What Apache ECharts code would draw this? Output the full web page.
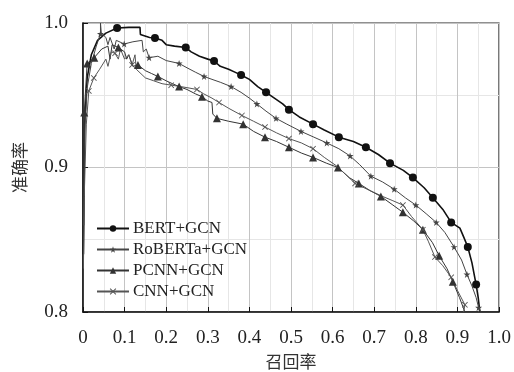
<!DOCTYPE html>
<html>
<head>
<meta charset="utf-8">
<script src="https://cdn.jsdelivr.net/npm/echarts@6/dist/echarts.min.js"></script>
<style>
  html, body { margin: 0; padding: 0; background: #fff; }
  #chart { width: 514px; height: 372px; }
</style>
</head>
<body>
<div id="chart"></div>
<script>
// [recall, precision, marker?]
const bertPts = [
  [0.001, 0.84], [0.004, 0.93], [0.01, 0.962], [0.02, 0.978], [0.035, 0.988], [0.055, 0.993],
  [0.082, 0.9965, 1], [0.11, 0.997], [0.137, 0.997], [0.138, 0.992], [0.16, 0.99],
  [0.173, 0.9896, 1], [0.19, 0.988], [0.2, 0.985], [0.22, 0.984], [0.247, 0.983, 1],
  [0.26, 0.98], [0.28, 0.977], [0.3, 0.975], [0.315, 0.9737, 1], [0.33, 0.97], [0.35, 0.968],
  [0.365, 0.966], [0.38, 0.964, 1], [0.4, 0.961], [0.42, 0.956], [0.44, 0.952, 1], [0.46, 0.948],
  [0.48, 0.944], [0.495, 0.94, 1], [0.52, 0.935], [0.553, 0.93, 1], [0.58, 0.926], [0.615, 0.921, 1],
  [0.65, 0.918], [0.68, 0.914, 1], [0.71, 0.909], [0.738, 0.903, 1], [0.77, 0.898], [0.793, 0.893, 1],
  [0.82, 0.886], [0.841, 0.879, 1], [0.865, 0.871], [0.885, 0.862, 1], [0.906, 0.858], [0.915, 0.852],
  [0.925, 0.845, 1], [0.935, 0.834], [0.945, 0.819, 1], [0.95, 0.81], [0.954, 0.8]
]
const robertaPts = [
  [0.001, 0.86], [0.004, 0.925], [0.01, 0.955], [0.02, 0.972], [0.032, 0.984], [0.042, 0.9925, 1],
  [0.042, 1.0], [0.044, 0.993], [0.055, 0.99], [0.06, 0.985], [0.065, 0.99], [0.075, 0.982],
  [0.08, 0.988], [0.099, 0.9855, 1], [0.12, 0.987], [0.142, 0.988], [0.145, 0.98], [0.152, 0.982],
  [0.159, 0.976, 1], [0.18, 0.977], [0.2, 0.974], [0.231, 0.972, 1], [0.25, 0.969], [0.27, 0.966],
  [0.291, 0.963, 1], [0.31, 0.961], [0.33, 0.959], [0.356, 0.956, 1], [0.38, 0.952], [0.4, 0.948],
  [0.418, 0.944, 1], [0.44, 0.939], [0.464, 0.934, 1], [0.49, 0.93], [0.524, 0.925, 1], [0.555, 0.921],
  [0.586, 0.917, 1], [0.615, 0.913], [0.642, 0.908, 1], [0.665, 0.902], [0.692, 0.894, 1], [0.72, 0.89],
  [0.748, 0.885, 1], [0.775, 0.879], [0.8, 0.874, 1], [0.825, 0.868], [0.849, 0.862, 1], [0.87, 0.855],
  [0.892, 0.845, 1], [0.91, 0.836], [0.923, 0.826, 1], [0.935, 0.818], [0.945, 0.81], [0.951, 0.803, 1],
  [0.955, 0.8]
]
const pcnnPts = [
  [0.002, 0.86], [0.003, 0.938, 1], [0.01, 0.972, 1], [0.027, 0.976, 1], [0.045, 0.982], [0.06, 0.984],
  [0.065, 0.975], [0.07, 0.985], [0.085, 0.983, 1], [0.1, 0.98], [0.105, 0.975], [0.11, 0.978],
  [0.12, 0.97], [0.132, 0.971, 1], [0.15, 0.967], [0.165, 0.965], [0.18, 0.963, 1], [0.2, 0.96],
  [0.215, 0.958], [0.231, 0.956, 1], [0.25, 0.954], [0.27, 0.951], [0.286, 0.949, 1], [0.3, 0.946],
  [0.31, 0.945], [0.312, 0.937], [0.322, 0.934, 1], [0.35, 0.932], [0.385, 0.93, 1], [0.41, 0.925],
  [0.4375, 0.921, 1], [0.465, 0.918], [0.495, 0.914, 1], [0.525, 0.91], [0.553, 0.907, 1], [0.585, 0.903],
  [0.613, 0.9, 1], [0.64, 0.893], [0.663, 0.889, 1], [0.69, 0.884], [0.716, 0.88, 1], [0.745, 0.874],
  [0.769, 0.869, 1], [0.795, 0.863], [0.817, 0.857, 1], [0.84, 0.848], [0.856, 0.839, 1], [0.875, 0.83],
  [0.889, 0.821, 1], [0.905, 0.81], [0.918, 0.8]
]
const cnnPts = [
  [0.001, 0.83], [0.003, 0.88], [0.008, 0.93], [0.014, 0.953, 1], [0.026, 0.962, 1], [0.04, 0.968],
  [0.055, 0.975], [0.06, 0.97], [0.068, 0.98], [0.077, 0.979, 1], [0.085, 0.975], [0.09, 0.982],
  [0.1, 0.975], [0.11, 0.978], [0.118, 0.971, 1], [0.125, 0.978], [0.128, 0.968], [0.15, 0.962],
  [0.17, 0.96], [0.19, 0.958], [0.212, 0.957, 1], [0.235, 0.956], [0.255, 0.955], [0.274, 0.954, 1],
  [0.29, 0.951], [0.31, 0.948], [0.327, 0.945, 1], [0.35, 0.941], [0.382, 0.936, 1], [0.41, 0.932],
  [0.4375, 0.928, 1], [0.465, 0.924], [0.495, 0.92, 1], [0.525, 0.917], [0.553, 0.913, 1], [0.58, 0.907],
  [0.61, 0.901], [0.654, 0.889, 1], [0.69, 0.884], [0.72, 0.88], [0.745, 0.877], [0.769, 0.874, 1],
  [0.79, 0.866], [0.817, 0.857, 1], [0.83, 0.849], [0.846, 0.838, 1], [0.865, 0.832], [0.885, 0.824, 1],
  [0.9, 0.815], [0.918, 0.805, 1], [0.915, 0.8]
]
const seriesNames = ['BERT+GCN', 'RoBERTa+GCN', 'PCNN+GCN', 'CNN+GCN']
const xTicks = [0, 0.1, 0.2, 0.3, 0.4, 0.5, 0.6, 0.7, 0.8, 0.9, 1.0]
const yTicks = [0.8, 0.9, 1.0]

const STAR = 'path://M5,0L6.2,3.6L10,3.6L6.9,5.9L8.1,9.5L5,7.3L1.9,9.5L3.1,5.9L0,3.6L3.8,3.6Z'
const CROSS = 'path://M0,1L1,0L5,4L9,0L10,1L6,5L10,9L9,10L5,6L1,10L0,9L4,5Z'

const serif = '"Liberation Serif", "Times New Roman", serif'

const toData = pts => pts.map(p => p[2]
  ? { value: [p[0], p[1]] }
  : { value: [p[0], p[1]], symbol: 'none' })

const mk = (name, pts, symbol, size, color, width) => ({
  name,
  type: 'line',
  data: toData(pts),
  symbol,
  symbolSize: size,
  showSymbol: true,
  showAllSymbol: true,
  clip: true,
  lineStyle: { color, width },
  itemStyle: { color, borderWidth: 0 },
  emphasis: { disabled: true },
  animation: false
})

const chart = echarts.init(document.getElementById('chart'))
chart.setOption({
  backgroundColor: '#fff',
  animation: false,
  grid: {
    left: 83, right: 15, top: 23, bottom: 60,
    outerBoundsMode: 'none',
    containLabel: false,
    show: true, borderColor: '#222', borderWidth: 1.2
  },
  legend: {
    orient: 'vertical',
    left: 91,
    top: 215,
    padding: 5,
    itemWidth: 32,
    itemHeight: 8,
    itemGap: 4,
    data: seriesNames,
    textStyle: { fontFamily: serif, fontSize: 17, color: '#222', padding: [0, 0, 0, -1] }
  },
  xAxis: {
    type: 'value',
    min: 0, max: 1, interval: 0.1,
    name: '召回率',
    nameLocation: 'middle',
    nameGap: 41,
    nameTextStyle: { fontFamily: '"Noto Sans CJK SC"', fontSize: 17, color: '#333' },
    axisLine: { show: true, lineStyle: { color: '#111', width: 1.5 } },
    axisTick: { show: true, inside: true, length: 5, lineStyle: { color: '#111' } },
    axisLabel: {
      margin: 17,
      fontFamily: serif, fontSize: 19, color: '#222',
      formatter: v => {
        const t = xTicks.find(x => Math.abs(x - v) < 1e-6)
        return t === 0 ? '0' : t.toFixed(1)
      }
    },
    splitLine: { show: true, lineStyle: { color: '#c4c4c4', width: 1 } },
    minorTick: { show: false, splitNumber: 2 },
    minorSplitLine: { show: true, lineStyle: { color: '#e6e6e6', width: 1 } }
  },
  yAxis: {
    type: 'value',
    min: 0.8, max: 1.0, interval: 0.1,
    name: '准确率',
    nameLocation: 'middle',
    nameGap: 55,
    nameTextStyle: { fontFamily: '"Noto Sans CJK SC"', fontSize: 17, color: '#333' },
    axisLine: { show: true, lineStyle: { color: '#111', width: 1.5 } },
    axisTick: { show: true, inside: true, length: 5, lineStyle: { color: '#111' } },
    axisLabel: {
      margin: 15,
      fontFamily: serif, fontSize: 19, color: '#222',
      formatter: v => yTicks.find(y => Math.abs(y - v) < 1e-6).toFixed(1)
    },
    splitLine: { show: true, lineStyle: { color: '#c4c4c4', width: 1 } },
    minorTick: { show: false, splitNumber: 2 },
    minorSplitLine: { show: true, lineStyle: { color: '#e6e6e6', width: 1 } }
  },
  series: [
    mk(seriesNames[0], bertPts, 'circle', 8, '#111', 1.6),
    mk(seriesNames[1], robertaPts, STAR, 7, '#444', 1),
    mk(seriesNames[2], pcnnPts, 'triangle', 8, '#333', 1),
    mk(seriesNames[3], cnnPts, CROSS, 6, '#555', 1)
  ]
})
</script>
</body>
</html>
